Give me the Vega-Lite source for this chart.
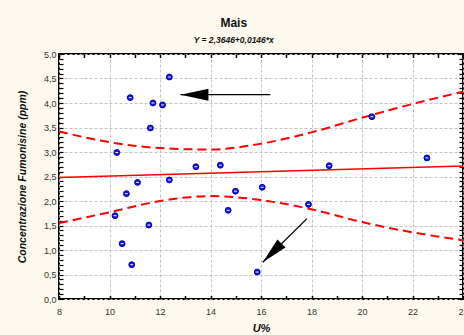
{
  "$schema": "https://vega.github.io/schema/vega-lite/v6.json",
  "width": 404,
  "height": 245,
  "autosize": {"type": "none"},
  "padding": {"left": 59, "top": 54, "right": 1, "bottom": 36},
  "background": "#fdf9ee",
  "title": {
    "text": "Mais",
    "subtitle": "Y = 2,3646+0,0146*x",
    "font": "Liberation Sans",
    "fontSize": 12,
    "fontWeight": "bold",
    "color": "#111111",
    "subtitleFont": "Liberation Sans",
    "subtitleFontSize": 8.5,
    "subtitleFontStyle": "italic",
    "subtitleFontWeight": "bold",
    "subtitleColor": "#111111",
    "subtitlePadding": 6,
    "offset": 5,
    "dx": -9,
    "anchor": "middle",
    "frame": "bounds"
  },
  "config": {
    "view": {"stroke": "black", "strokeWidth": 2, "fill": "white"},
    "axis": {
      "domain": false,
      "labelFont": "Liberation Sans",
      "labelFontSize": 9,
      "labelColor": "#333333",
      "titleFont": "Liberation Sans",
      "titleColor": "#111111",
      "titleFontWeight": "bold",
      "titleFontStyle": "italic",
      "tickColor": "black"
    }
  },
  "datasets": {
    "points": [
      {"u": 12.37, "c": 4.53}, {"u": 10.82, "c": 4.11}, {"u": 11.72, "c": 4.0},
      {"u": 12.1, "c": 3.96}, {"u": 11.62, "c": 3.49}, {"u": 10.29, "c": 2.99},
      {"u": 13.42, "c": 2.7}, {"u": 14.39, "c": 2.73}, {"u": 11.11, "c": 2.38},
      {"u": 12.37, "c": 2.43}, {"u": 10.67, "c": 2.15}, {"u": 14.99, "c": 2.2},
      {"u": 16.05, "c": 2.28}, {"u": 14.7, "c": 1.81}, {"u": 10.22, "c": 1.7},
      {"u": 11.56, "c": 1.51}, {"u": 10.5, "c": 1.13}, {"u": 10.88, "c": 0.7},
      {"u": 15.85, "c": 0.55}, {"u": 17.88, "c": 1.93}, {"u": 18.7, "c": 2.72},
      {"u": 20.39, "c": 3.72}, {"u": 22.57, "c": 2.88}
    ],
    "curves": [
      {"series": "fit", "u": 8, "c": 2.481}, {"series": "fit", "u": 24, "c": 2.715},
      {"series": "upper", "u": 8, "c": 3.42}, {"series": "upper", "u": 10, "c": 3.2},
      {"series": "upper", "u": 12, "c": 3.08}, {"series": "upper", "u": 14, "c": 3.05},
      {"series": "upper", "u": 16, "c": 3.17}, {"series": "upper", "u": 18, "c": 3.4},
      {"series": "upper", "u": 20, "c": 3.7}, {"series": "upper", "u": 22, "c": 3.98},
      {"series": "upper", "u": 24, "c": 4.23},
      {"series": "lower", "u": 8, "c": 1.55}, {"series": "lower", "u": 10, "c": 1.77},
      {"series": "lower", "u": 12, "c": 2.0}, {"series": "lower", "u": 14, "c": 2.1},
      {"series": "lower", "u": 16, "c": 2.02}, {"series": "lower", "u": 18, "c": 1.83},
      {"series": "lower", "u": 20, "c": 1.57}, {"series": "lower", "u": 22, "c": 1.36},
      {"series": "lower", "u": 24, "c": 1.2}
    ],
    "arrows": [
      {"id": "a", "u": 16.37, "c": 4.17, "u2": 12.81, "c2": 4.17},
      {"id": "b", "u": 17.82, "c": 1.64, "u2": 16.07, "c2": 0.75}
    ]
  },
  "layer": [
    {
      "data": {"name": "curves"},
      "transform": [{"filter": "datum.series !== 'fit'"}],
      "mark": {"type": "line", "color": "#ff0000", "strokeWidth": 2, "strokeDash": [9, 5], "interpolate": "monotone"},
      "encoding": {
        "x": {"field": "u", "type": "quantitative", "scale": {"domain": [8, 24], "nice": false, "zero": false}, "axis": null},
        "y": {"field": "c", "type": "quantitative", "scale": {"domain": [0, 5], "nice": false}, "axis": null},
        "detail": {"field": "series"}
      }
    },
    {
      "data": {"name": "curves"},
      "transform": [{"filter": "datum.series === 'fit'"}],
      "mark": {"type": "line", "color": "#ff0000", "strokeWidth": 1.6},
      "encoding": {
        "x": {"field": "u", "type": "quantitative", "axis": null},
        "y": {"field": "c", "type": "quantitative", "axis": null}
      }
    },
    {
      "data": {"name": "points"},
      "mark": {"type": "point", "shape": "circle", "filled": true, "fill": "#1414ff", "stroke": "#0000a0", "strokeWidth": 1, "size": 34, "opacity": 1},
      "encoding": {
        "x": {
          "field": "u", "type": "quantitative", "title": "U%",
          "axis": {
            "orient": "bottom",
            "values": [8, 9, 10, 11, 12, 13, 14, 15, 16, 17, 18, 19, 20, 21, 22, 23, 24],
            "labelExpr": "datum.value % 2 === 0 ? datum.label : ''",
            "tickSize": -3.5,
            "tickWidth": 1.5,
            "labelPadding": 12,
            "labelFlush": false,
            "labelOverlap": false,
            "grid": true,
            "gridColor": "#c4c4c4",
            "gridDash": [3, 2],
            "gridOpacity": {"condition": {"test": "datum.value % 2 === 0", "value": 1}, "value": 0},
            "titleFontSize": 11,
            "titlePadding": 6
          }
        },
        "y": {
          "field": "c", "type": "quantitative", "title": "Concentrazione Fumonisine (ppm)",
          "axis": {
            "orient": "left",
            "values": [0, 0.1, 0.2, 0.3, 0.4, 0.5, 0.6, 0.7, 0.8, 0.9, 1, 1.1, 1.2, 1.3, 1.4, 1.5, 1.6, 1.7, 1.8, 1.9, 2, 2.1, 2.2, 2.3, 2.4, 2.5, 2.6, 2.7, 2.8, 2.9, 3, 3.1, 3.2, 3.3, 3.4, 3.5, 3.6, 3.7, 3.8, 3.9, 4, 4.1, 4.2, 4.3, 4.4, 4.5, 4.6, 4.7, 4.8, 4.9, 5],
            "labelExpr": "abs(datum.value * 2 - round(datum.value * 2)) < 0.01 ? replace(format(datum.value, '.1f'), '.', ',') : ''",
            "tickSize": -4,
            "tickWidth": 1.2,
            "labelPadding": 7,
            "labelFlush": false,
            "labelOverlap": false,
            "grid": true,
            "gridColor": "#c4c4c4",
            "gridDash": [3, 2],
            "gridOpacity": {"condition": {"test": "abs(datum.value * 2 - round(datum.value * 2)) < 0.01", "value": 1}, "value": 0},
            "titleFontSize": 10.5,
            "titlePadding": 16
          }
        }
      }
    },
    {
      "data": {"name": "points"},
      "mark": {"type": "point", "shape": "stroke", "stroke": "white", "strokeWidth": 1, "size": 8, "opacity": 1},
      "encoding": {
        "x": {
          "field": "u", "type": "quantitative",
          "axis": {
            "orient": "top",
            "values": [8, 9, 10, 11, 12, 13, 14, 15, 16, 17, 18, 19, 20, 21, 22, 23, 24],
            "labels": false, "grid": false, "tickSize": -3.5, "tickWidth": 1.5, "title": null
          }
        },
        "y": {
          "field": "c", "type": "quantitative",
          "axis": {
            "orient": "right",
            "values": [0, 0.1, 0.2, 0.3, 0.4, 0.5, 0.6, 0.7, 0.8, 0.9, 1, 1.1, 1.2, 1.3, 1.4, 1.5, 1.6, 1.7, 1.8, 1.9, 2, 2.1, 2.2, 2.3, 2.4, 2.5, 2.6, 2.7, 2.8, 2.9, 3, 3.1, 3.2, 3.3, 3.4, 3.5, 3.6, 3.7, 3.8, 3.9, 4, 4.1, 4.2, 4.3, 4.4, 4.5, 4.6, 4.7, 4.8, 4.9, 5],
            "labels": false, "grid": false, "tickSize": -4, "tickWidth": 1.2, "title": null
          }
        }
      }
    },
    {
      "data": {"name": "arrows"},
      "mark": {"type": "rule", "color": "black", "strokeWidth": 1.3},
      "encoding": {
        "x": {"field": "u", "type": "quantitative", "axis": null},
        "y": {"field": "c", "type": "quantitative", "axis": null},
        "x2": {"field": "u2"},
        "y2": {"field": "c2"}
      }
    },
    {
      "data": {"name": "arrows"},
      "transform": [{"filter": "datum.id === 'a'"}],
      "mark": {"type": "point", "shape": "M0,0L2,-0.43L2,0.43Z", "filled": true, "fill": "black", "strokeWidth": 0, "size": 784, "opacity": 1},
      "encoding": {
        "x": {"field": "u2", "type": "quantitative", "axis": null},
        "y": {"field": "c2", "type": "quantitative", "axis": null}
      }
    },
    {
      "data": {"name": "arrows"},
      "transform": [{"filter": "datum.id === 'b'"}],
      "mark": {"type": "point", "shape": "M0,0L2,-0.43L2,0.43Z", "filled": true, "fill": "black", "strokeWidth": 0, "size": 700, "angle": 315, "opacity": 1},
      "encoding": {
        "x": {"field": "u2", "type": "quantitative", "axis": null},
        "y": {"field": "c2", "type": "quantitative", "axis": null}
      }
    }
  ],
  "resolve": {"axis": {"x": "independent", "y": "independent"}}
}
